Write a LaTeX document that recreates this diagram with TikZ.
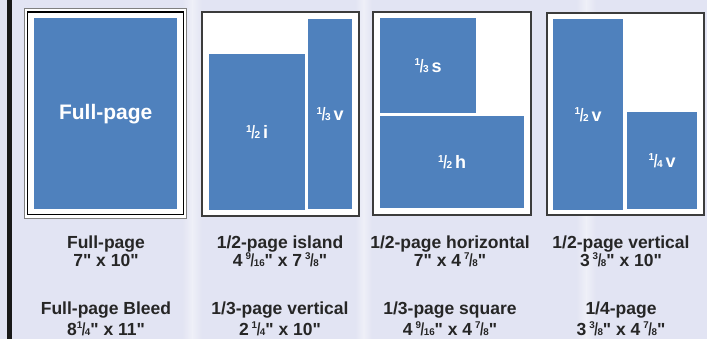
\documentclass[tikz,border=0pt]{standalone}
\usepackage{fontspec}
\setmainfont{Liberation Sans}[Ligatures=TeXOff]
\usepackage{graphicx}
\definecolor{bgcol}{RGB}{226,228,243}
\definecolor{adblue}{RGB}{79,129,189}
\definecolor{framecol}{RGB}{60,60,60}
\definecolor{outergray}{RGB}{128,128,128}
\definecolor{labeltext}{RGB}{38,38,38}
\newcommand\fr[2]{\raisebox{0.72ex}{\scalebox{0.56}{#1}}\kern-0.02em\scalebox{0.75}[1]{/}\kern-0.03em\scalebox{0.56}{#2}}
\tikzset{
  blk/.style={fill=adblue, draw=none, inner sep=0pt, anchor=north west, text=white,
    font=\fontsize{18}{20}\selectfont\bfseries},
  frame/.style={draw=framecol, line width=1.1pt, fill=white},
  lbl/.style={anchor=base, text=labeltext, inner sep=0pt,
    font=\fontsize{17.5}{20}\selectfont\bfseries},
  glow/.style={left color=bgcol, right color=bgcol, middle color=white, opacity=0.45}
}
\begin{document}
\begin{tikzpicture}[x=1pt,y=-1pt]
\useasboundingbox (0,0) rectangle (707,339);
\fill[bgcol] (0,0) rectangle (707,339);
% soft background glows
\shade[glow] (182,0) rectangle (202,339);
\shade[glow] (576,0) rectangle (596,339);
\shade[glow] (355,0) rectangle (372,339);
% left black bar
\fill[black!90] (7,0) rectangle (12,339);
% panel 1: full page with double border
\draw[outergray, line width=0.9pt, fill=white] (24.5,8.5) rectangle (186.5,218.5);
\draw[black, line width=1.2pt] (27.5,12) rectangle (183.5,214.5);
\node[blk, minimum width=143, minimum height=191, font=\fontsize{21}{24}\selectfont\bfseries] (fp) at (34,18) {Full-page};
% panel 2
\draw[frame] (202,12) rectangle (359,216);
\node[blk, minimum width=96, minimum height=156] (hi) at (209,54) {\fr12\,i};
\node[blk, minimum width=44, minimum height=190] (tv) at (308,19) {\fr13\,v};
% panel 3
\draw[frame] (373,12) rectangle (531,215);
\node[blk, minimum width=96, minimum height=95] (ts) at (380,18) {\fr13\,s};
\node[blk, minimum width=144, minimum height=92] (hh) at (380,116) {\fr12\,h};
% panel 4
\draw[frame] (547,13) rectangle (704,215);
\node[blk, minimum width=70, minimum height=191] (hv) at (553,19) {\fr12\,v};
\node[blk, minimum width=70, minimum height=97] (qv) at (627,112) {\fr14\,v};
% labels
\node[lbl] (l1a) at (106,248) {Full-page};
\node[lbl] (l1b) at (106,266) {7" x 10"};
\node[lbl] (l1c) at (106,314) {Full-page Bleed};
\node[lbl] (l1d) at (106,335) {8\fr14" x 11"};
\node[lbl] (l2a) at (280,248) {1/2-page island};
\node[lbl] (l2b) at (280,266) {4\,\fr{9}{16}" x 7\,\fr38"};
\node[lbl] (l2c) at (280,314) {1/3-page vertical};
\node[lbl] (l2d) at (280,335) {2\,\fr14" x 10"};
\node[lbl] (l3a) at (450,248) {1/2-page horizontal};
\node[lbl] (l3b) at (450,266) {7" x 4\,\fr78"};
\node[lbl] (l3c) at (450,314) {1/3-page square};
\node[lbl] (l3d) at (450,335) {4\,\fr{9}{16}" x 4\,\fr78"};
\node[lbl] (l4a) at (621,248) {1/2-page vertical};
\node[lbl] (l4b) at (621,266) {3\,\fr38" x 10"};
\node[lbl] (l4c) at (621,314) {1/4-page};
\node[lbl] (l4d) at (621,335) {3\,\fr38" x 4\,\fr78"};
\end{tikzpicture}
\end{document}
